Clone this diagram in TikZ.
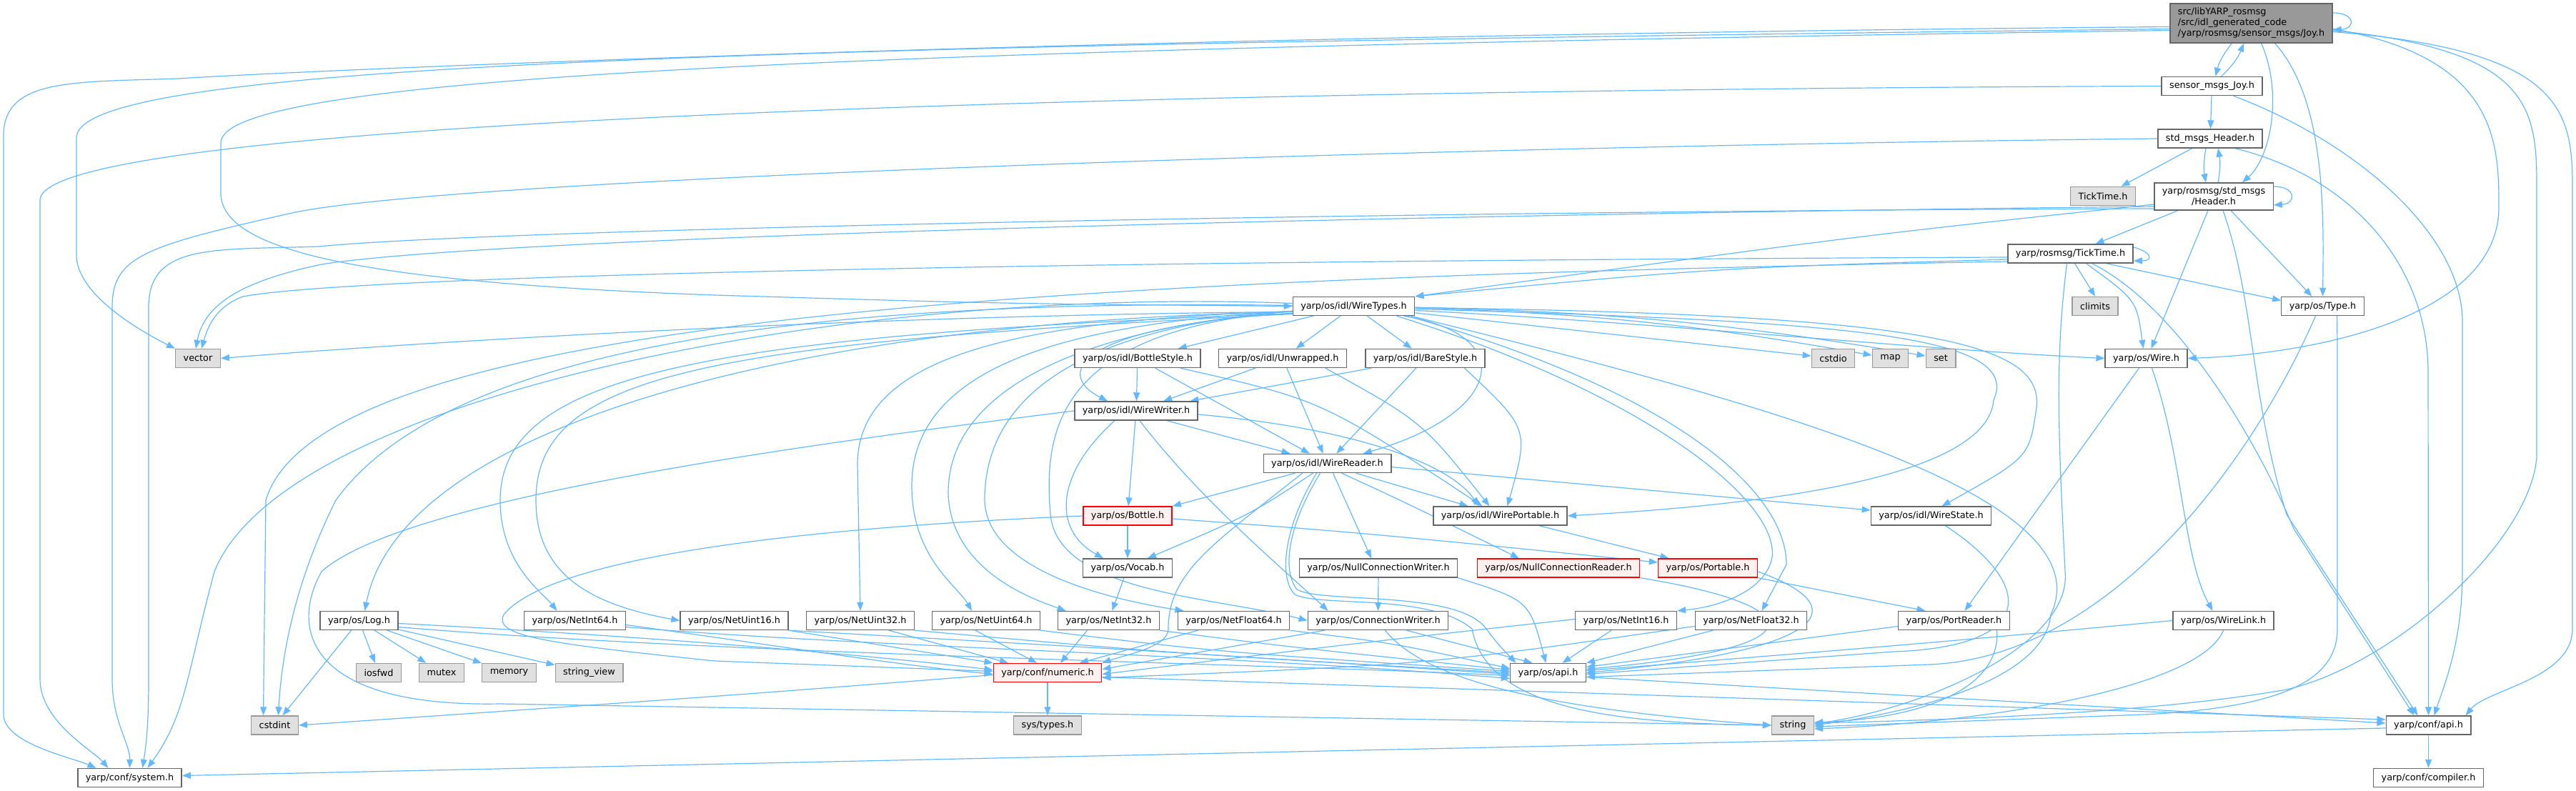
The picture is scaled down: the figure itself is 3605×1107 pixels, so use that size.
\documentclass[tikz,border=0pt]{standalone}
\usepackage{fontspec}
\setmainfont{DejaVu Sans}
\usepackage{xcolor}
\usepackage{tikz}
\usetikzlibrary{arrows.meta,backgrounds}

\definecolor{edgeblue}{HTML}{63B8FF}
\definecolor{boxline}{HTML}{666666}
\definecolor{extline}{HTML}{999999}
\definecolor{extfill}{HTML}{E0E0E0}
\definecolor{redfill}{HTML}{FFF0F0}
\definecolor{rootfill}{HTML}{999999}

\begin{document}
\begin{tikzpicture}[x=1pt, y=1pt,
  hdr/.style={draw, line width=1.4pt, minimum height=26pt, inner xsep=11pt,
              inner ysep=6pt, font=\fontsize{12.8pt}{15pt}\selectfont},
  plainfile/.style={hdr, fill=white, draw=boxline},
  extfile/.style={hdr, fill=extfill, draw=extline},
  redfile/.style={hdr, fill=redfill, draw=red},
  rootfile/.style={hdr, fill=rootfill, draw=boxline, align=left},
  dep/.style={draw=edgeblue, line width=1.2pt, -{Triangle[length=12pt,width=9pt]}},
]
\useasboundingbox (0,0) rectangle (3605,-1107);

% ---- rows 0..4
\node[rootfile] (J) at (3150.5,-32.5) {src/libYARP\_rosmsg\\/src/idl\_generated\_code\\/yarp/rosmsg/sensor\_msgs/Joy.h};
\node[plainfile] (SJ) at (3095.5,-120.5) {sensor\_msgs\_Joy.h};
\node[plainfile] (SH) at (3093,-194) {std\_msgs\_Header.h};
\node[extfile] (TG) at (2943,-274.5) {TickTime.h};
\node[plainfile, align=center] (H) at (3098,-275) {yarp/rosmsg/std\_msgs\\/Header.h};
\node[plainfile] (TT) at (2897.5,-355) {yarp/rosmsg/TickTime.h};
% ---- row 5
\node[extfile] (CL) at (2932,-428.5) {climits};
\node[plainfile] (T) at (3250.5,-428.5) {yarp/os/Type.h};
\node[plainfile] (WT) at (1894.5,-428.5) {yarp/os/idl/WireTypes.h};
% ---- row 6
\node[extfile] (V) at (277,-501.5) {vector};
\node[plainfile] (BS) at (1592,-501.5) {yarp/os/idl/BottleStyle.h};
\node[plainfile] (U) at (1795,-501.5) {yarp/os/idl/Unwrapped.h};
\node[plainfile] (BaS) at (1994.5,-501.5) {yarp/os/idl/BareStyle.h};
\node[extfile] (CSD) at (2565.5,-501.5) {cstdio};
\node[extfile] (MP) at (2645.5,-501.5) {map};
\node[extfile] (ST) at (2716,-501.5) {set};
\node[plainfile] (W) at (3003.5,-501.5) {yarp/os/Wire.h};
% ---- rows 7..10
\node[plainfile] (WW) at (1590,-575) {yarp/os/idl/WireWriter.h};
\node[plainfile] (WR) at (1857.5,-648.5) {yarp/os/idl/WireReader.h};
\node[redfile] (B) at (1578,-722) {yarp/os/Bottle.h};
\node[plainfile] (WP) at (2099.5,-722) {yarp/os/idl/WirePortable.h};
\node[plainfile] (WS) at (2702.5,-722) {yarp/os/idl/WireState.h};
\node[plainfile] (Vo) at (1578,-795) {yarp/os/Vocab.h};
\node[plainfile] (NCW) at (1929,-795) {yarp/os/NullConnectionWriter.h};
\node[redfile] (NCR) at (2181,-795) {yarp/os/NullConnectionReader.h};
\node[redfile] (P) at (2390,-795) {yarp/os/Portable.h};
% ---- row 11
\node[plainfile] (LG) at (502.5,-868.5) {yarp/os/Log.h};
\node[plainfile] (NI64) at (804.5,-868.5) {yarp/os/NetInt64.h};
\node[plainfile] (NU16) at (1027.5,-868.5) {yarp/os/NetUint16.h};
\node[plainfile] (NU32) at (1204,-868.5) {yarp/os/NetUint32.h};
\node[plainfile] (NU64) at (1380,-868.5) {yarp/os/NetUint64.h};
\node[plainfile] (NI32) at (1551.5,-868.5) {yarp/os/NetInt32.h};
\node[plainfile] (NF64) at (1726.5,-868.5) {yarp/os/NetFloat64.h};
\node[plainfile] (CW) at (1928.5,-868.5) {yarp/os/ConnectionWriter.h};
\node[plainfile] (NI16) at (2275.5,-868.5) {yarp/os/NetInt16.h};
\node[plainfile] (NF32) at (2450.5,-868.5) {yarp/os/NetFloat32.h};
\node[plainfile] (PR) at (2734.5,-868.5) {yarp/os/PortReader.h};
\node[plainfile] (WL) at (3111.5,-868.5) {yarp/os/WireLink.h};
% ---- rows 12..14
\node[extfile] (IO) at (530,-941.5) {iosfwd};
\node[extfile] (MX) at (618,-941.5) {mutex};
\node[extfile] (MEM) at (712.5,-941.5) {memory};
\node[extfile] (SV) at (824.5,-941.5) {string\_view};
\node[redfile] (N) at (1466,-941.5) {yarp/conf/numeric.h};
\node[plainfile] (OA) at (2166.5,-941.5) {yarp/os/api.h};
\node[extfile] (CI) at (384.5,-1015) {cstdint};
\node[extfile] (SYT) at (1466,-1015) {sys/types.h};
\node[extfile] (S) at (2509,-1015) {string};
\node[plainfile] (CA) at (3398.5,-1015) {yarp/conf/api.h};
\node[plainfile] (SYS) at (181.5,-1088.5) {yarp/conf/system.h};
\node[plainfile] (CO) at (3398.5,-1088.5) {yarp/conf/compiler.h};

\begin{scope}[on background layer]
  % root file
  \draw[dep] (J) to[bend right=12] (SJ);
  \draw[dep] (SJ) to[bend right=12] (J);
  \draw[dep] ([yshift=14.5]J.east) .. controls +(32,0) and +(32,2) .. ([yshift=-9.5]J.east);
  \draw[dep] ([xshift=14]J.south) .. controls (3195,-130) and (3178,-220) .. ([xshift=40]H.north);
  \draw[dep] ([xshift=33]J.south) .. controls (3255,-140) and (3252,-300) .. (T.north);
  \draw[dep] ([yshift=-8]J.east) .. controls (3495,-80) and (3497,-200) .. (3497,-290) .. controls (3497,-440) and (3250,-495) .. (W.east);
  \draw[dep] ([yshift=-12]J.east) .. controls (3580,-70) and (3600,-150) .. (3600,-260) -- (3600,-880) .. controls (3600,-950) and (3480,-965) .. ([xshift=52]CA.north);
  \draw[dep] ([yshift=-10]J.east) .. controls (3540,-70) and (3550,-150) .. (3550,-260) -- (3550,-640) .. controls (3540,-760) and (3350,-930) .. (3200,-965) .. controls (3000,-1000) and (2700,-1008) .. ([yshift=3]S.east);
  \draw[dep] ([yshift=-5]J.west) .. controls (1500,-50) and (400,-100) .. (250,-110) .. controls (100,-115) and (5,-110) .. (5,-190) -- (5,-1000) .. controls (5,-1040) and (100,-1060) .. ([xshift=-47]SYS.north);
  \draw[dep] ([yshift=-8]J.west) .. controls (1000,-65) and (107,-90) .. (107,-193) -- (107,-357) .. controls (107,-410) and (190,-460) .. (V.north west);
  \draw[dep] ([yshift=-10]J.west) .. controls (1100,-70) and (309,-110) .. (309,-200) -- (309,-270) .. controls (309,-350) and (500,-395) .. (1000,-413) .. controls (1400,-425) .. (WT.west);
  % sensor_msgs_Joy.h
  \draw[dep] (SJ.west) .. controls (1800,-125) and (56,-160) .. (56,-280) -- (56,-950) .. controls (56,-1010) and (130,-1050) .. ([xshift=-30]SYS.north);
  \draw[dep] (SJ) -- (SH);
  \draw[dep] ([xshift=30]SJ.south) .. controls (3300,-200) and (3446,-330) .. (3446,-450) -- (3446,-800) .. controls (3446,-900) and (3420,-960) .. ([xshift=8]CA.north);
  % std_msgs_Header.h
  \draw[dep] ([xshift=-6]SH.south) to[bend right=10] ([xshift=-11]H.north);
  \draw[dep] ([xshift=6]H.north) to[bend right=10] ([xshift=11]SH.south);
  \draw[dep] (SH) -- (TG);
  \draw[dep] (SH.west) .. controls (2000,-205) and (600,-250) .. (400,-300) .. controls (200,-345) and (157,-360) .. (157,-430) -- (157,-950) .. controls (157,-1010) and (182,-1040) .. (SYS.north);
  \draw[dep] ([xshift=35]SH.south) .. controls (3300,-250) and (3398,-380) .. (3398,-520) -- (CA.north);
  % Header.h
  \draw[dep] ([yshift=14]H.east) .. controls +(32,0) and +(32,2) .. ([yshift=-12]H.east);
  \draw[dep] ([xshift=-50]H.south) -- ([xshift=35]TT.north);
  \draw[dep] ([xshift=-8]H.south) -- ([xshift=7]W.north);
  \draw[dep] ([xshift=24]H.south) -- ([xshift=-15]T.north);
  \draw[dep] ([xshift=13]H.south) .. controls (3155,-420) and (3150,-560) .. (3200,-720) -- ([xshift=-15]CA.north);
  \draw[dep] ([yshift=-14]H.west) .. controls (2000,-300) and (700,-330) .. (450,-370) .. controls (330,-395) and (285,-430) .. ([xshift=-3]V.north);
  \draw[dep] ([yshift=-17]H.west) .. controls (2000,-295) and (700,-320) .. (446,-345) .. controls (300,-350) and (208,-340) .. (208,-430) -- (208,-950) .. controls (208,-1010) and (205,-1040) .. ([xshift=18]SYS.north);
  \draw[dep] ([yshift=-11]H.west) .. controls (2600,-330) .. (WT.north east);
  % TickTime.h
  \draw[dep] ([xshift=48]TT.north) .. controls +(60,0) and +(35,0) .. ([yshift=-10]TT.east);
  \draw[dep] ([xshift=6]TT.south) -- (CL.north);
  \draw[dep] ([xshift=50]TT.south) -- ([yshift=8]T.west);
  \draw[dep] ([xshift=22]TT.south) .. controls (2990,-420) .. ([xshift=-4]W.north);
  \draw[dep] ([xshift=-5]TT.south) .. controls (2876,-500) and (2880,-600) .. (2890,-800) .. controls (2900,-900) and (2700,-990) .. ([yshift=2]S.east);
  \draw[dep] ([xshift=30]TT.south) .. controls (3050,-430) and (3160,-620) .. (3210,-740) -- ([xshift=-20]CA.north);
  \draw[dep] ([yshift=-8]TT.west) .. controls (2400,-375) .. (WT.north east);
  \draw[dep] ([yshift=-5]TT.west) .. controls (1500,-365) and (500,-385) .. (340,-415) .. controls (300,-430) and (290,-460) .. ([xshift=5]V.north);
  \draw[dep] ([yshift=-11]TT.west) .. controls (1500,-390) and (450,-440) .. (372,-700) -- ([xshift=-16]CI.north);
  % Type.h, Wire.h and their children
  \draw[dep] ([xshift=-10]T.south) .. controls (3150,-650) and (2950,-920) .. (2700,-930) -- ([yshift=-6]OA.east);
  \draw[dep] ([xshift=20]T.south) .. controls (3271,-480) .. (3271,-560) -- (3271,-880) .. controls (3271,-950) and (3200,-990) .. (3000,-1000) -- ([yshift=-2]S.east);
  \draw[dep] ([xshift=-10]W.south) -- ([xshift=15]PR.north);
  \draw[dep] ([xshift=8]W.south) .. controls (3055,-640) and (3055,-780) .. ([xshift=-15]WL.north);
  \draw[dep] (WL.west) .. controls (2700,-900) .. ([yshift=3]OA.east);
  \draw[dep] (WL.south) .. controls (3080,-960) and (2800,-1010) .. ([yshift=-5]S.east);
  \draw[dep] ([yshift=-8]PR.west) -- ([yshift=8]OA.east);
  \draw[dep] ([xshift=60]PR.south) .. controls (2800,-960) and (2700,-1005) .. ([yshift=4]S.east);
  \draw[dep] ([xshift=20]WS.south) .. controls (2850,-820) and (2850,-905) .. (2650,-912) -- ([yshift=-2]OA.east);
  \draw[dep] (P.south east) -- ([xshift=-40]PR.north);
  \draw[dep] ([yshift=-5]P.east) .. controls (2600,-850) and (2560,-910) .. (OA.east);
  \draw[dep] (NCR.south east) .. controls (2520,-845) and (2570,-905) .. ([yshift=5]OA.east);
  \draw[dep] (NCW) -- (CW);
  \draw[dep] (NCW.south east) .. controls (2140,-840) .. ([xshift=-3]OA.north);
  \draw[dep] ([xshift=40]CW.south) -- ([xshift=-22]OA.north);
  \draw[dep] ([xshift=10]CW.south) .. controls (2000,-960) and (2200,-995) .. (S.west);
  \draw[dep] ([xshift=-75]CW.south) -- ([yshift=5]N.east);
  \draw[dep] (NI16) -- ([xshift=20]OA.north);
  \draw[dep] ([yshift=2]NI16.west) .. controls (1900,-900) .. ([yshift=-2]N.east);
  \draw[dep] (NF32) -- (OA.north east);
  \draw[dep] ([yshift=-8]NF32.west) .. controls (2000,-930) .. ([yshift=-7]N.east);
  % WireTypes.h
  \draw[dep] ([yshift=-8]WT.west) .. controls (1300,-440) and (700,-470) .. (V.east);
  \draw[dep] (WT) -- (BS);
  \draw[dep] (WT) -- (U);
  \draw[dep] (WT) -- (BaS);
  \draw[dep] ([yshift=-10]WT.west) .. controls (1520,-455) and (1470,-520) .. ([xshift=-40]WW.north);
  \draw[dep] ([xshift=70]WT.south) .. controls (2130,-470) and (2100,-580) .. ([xshift=50]WR.north);
  \draw[dep] ([yshift=-4]WT.east) .. controls (2600,-450) and (2830,-470) .. (2790,-560) .. controls (2780,-680) and (2400,-710) .. (WP.east);
  \draw[dep] ([yshift=-2]WT.east) .. controls (2700,-440) and (2860,-480) .. (2850,-570) .. controls (2840,-640) .. ([xshift=15]WS.north);
  \draw[dep] (WT) -- (CSD);
  \draw[dep] (WT) to[bend left=4] (MP);
  \draw[dep] (WT) to[bend left=4] (ST);
  \draw[dep] ([yshift=-6]WT.east) .. controls (2300,-450) and (2700,-490) .. (W.west);
  \draw[dep] ([xshift=80]WT.south) .. controls (2450,-560) and (2950,-690) .. (2870,-860) .. controls (2860,-960) and (2650,-1000) .. (S.east);
  \draw[dep] ([yshift=1]WT.west) .. controls (1000,-415) and (600,-520) .. (470,-700) .. controls (420,-800) and (395,-900) .. ([xshift=5]CI.north);
  \draw[dep] ([yshift=4]WT.west) .. controls (1200,-400) and (400,-550) .. (300,-800) .. controls (260,-950) and (260,-1000) .. ([xshift=25]SYS.north);
  \draw[dep] ([yshift=-8]WT.west) .. controls (1100,-450) and (560,-600) .. ([xshift=8]LG.north);
  \draw[dep] ([yshift=-10]WT.west) .. controls (1000,-470) and (700,-520) .. (700,-700) .. controls (700,-790) and (760,-830) .. ([xshift=-25]NI64.north);
  \draw[dep] ([yshift=-11]WT.west) .. controls (1000,-480) and (750,-520) .. (750,-700) .. controls (750,-800) and (820,-845) .. (NU16.west);
  \draw[dep] ([yshift=-7]WT.west) .. controls (1450,-448) and (1200,-490) .. (1200,-650) -- (NU32.north);
  \draw[dep] ([yshift=-7]WT.west) .. controls (1500,-452) and (1276,-510) .. (1276,-680) .. controls (1276,-780) and (1340,-820) .. ([xshift=-20]NU64.north);
  \draw[dep] ([yshift=-7]WT.west) .. controls (1550,-456) and (1327,-530) .. (1327,-690) .. controls (1330,-800) and (1450,-840) .. ([xshift=-60]NI32.north);
  \draw[dep] ([yshift=-7]WT.west) .. controls (1520,-458) and (1378,-550) .. (1378,-700) .. controls (1380,-800) and (1560,-840) .. ([xshift=-70]NF64.north);
  \draw[dep] ([yshift=-7]WT.west) .. controls (1480,-462) and (1460,-600) .. (1470,-720) .. controls (1480,-830) and (1700,-835) .. (CW.west);
  \draw[dep] ([xshift=60]WT.south) .. controls (2300,-550) and (2490,-700) .. (2480,-780) .. controls (2470,-830) and (2400,-850) .. (NI16.north east);
  \draw[dep] ([xshift=75]WT.south) .. controls (2350,-550) and (2500,-690) .. (2500,-790) -- ([xshift=15]NF32.north);
  % styles
  \draw[dep] (BS) -- (WW);
  \draw[dep] (BS) -- (WR);
  \draw[dep] ([xshift=60]BS.south) .. controls (1850,-560) .. ([xshift=-25]WP.north);
  \draw[dep] (U) -- (WW);
  \draw[dep] (U) -- (WR);
  \draw[dep] ([xshift=60]U.south) .. controls (1990,-590) .. ([xshift=-15]WP.north);
  \draw[dep] (BaS) -- (WW);
  \draw[dep] (BaS) -- (WR);
  \draw[dep] ([xshift=55]BaS.south) .. controls (2140,-600) .. ([xshift=10]WP.north);
  % WireWriter.h
  \draw[dep] ([xshift=43]WW.south) -- ([xshift=-52]WR.north);
  \draw[dep] ([yshift=-5]WW.east) .. controls (1900,-600) and (2030,-650) .. ([xshift=-30]WP.north);
  \draw[dep] (WW) -- (B);
  \draw[dep] ([xshift=-30]WW.south) .. controls (1480,-660) and (1470,-740) .. ([xshift=-34]Vo.north);
  \draw[dep] ([xshift=5]WW.south) .. controls (1680,-700) and (1800,-800) .. ([xshift=-70]CW.north);
  \draw[dep] (WW.west) .. controls (1100,-625) and (560,-700) .. (450,-800) .. controls (405,-880) and (430,-990) .. (700,-985) -- (S.west);
  % WireReader.h
  \draw[dep] ([xshift=-45]WR.south) -- (B.north east);
  \draw[dep] ([xshift=-20]WR.south) .. controls (1750,-720) .. ([xshift=28]Vo.north);
  \draw[dep] ([xshift=8]WR.south) -- ([xshift=-10]NCW.north);
  \draw[dep] ([xshift=20]WR.south) .. controls (1960,-700) .. ([xshift=-55]NCR.north);
  \draw[dep] ([xshift=40]WR.south) -- ([xshift=-45]WP.north);
  \draw[dep] ([yshift=-5]WR.east) -- ([yshift=8]WS.west);
  \draw[dep] ([xshift=-35]WR.south) .. controls (1700,-760) and (1635,-800) .. (1635,-880) .. controls (1635,-905) and (1580,-915) .. (N.north east);
  \draw[dep] ([xshift=-10]WR.south) .. controls (1800,-740) and (1795,-800) .. (1815,-825) .. controls (1850,-845) and (2040,-825) .. (2080,-880) .. controls (2095,-900) .. ([xshift=-45]OA.north);
  \draw[dep] ([xshift=-15]WR.south) .. controls (1795,-740) and (1790,-810) .. (1812,-832) .. controls (1850,-850) and (2000,-830) .. (2060,-880) .. controls (2080,-990) and (2250,-1012) .. (S.west);
  % Bottle.h, Vocab.h, WirePortable.h
  \draw[dep] (B) -- (Vo);
  \draw[dep] ([yshift=-4]B.east) .. controls (1900,-745) .. ([yshift=8]P.west);
  \draw[dep] (B.west) .. controls (1200,-735) and (780,-770) .. (705,-860) .. controls (690,-890) and (760,-900) .. (1000,-925) -- ([yshift=2]N.west);
  \draw[dep] (Vo) -- (NI32);
  \draw[dep] (WP) -- (P);
  % Log.h
  \draw[dep] (LG) -- (CI);
  \draw[dep] (LG) -- (IO);
  \draw[dep] (LG) -- (MX);
  \draw[dep] (LG) -- (MEM);
  \draw[dep] (LG) -- (SV);
  \draw[dep] ([yshift=-4]LG.east) .. controls (900,-890) and (1200,-915) .. ([yshift=4]N.west);
  \draw[dep] ([yshift=-9]LG.east) .. controls (1000,-915) and (1800,-930) .. ([yshift=-4]OA.west);
  % net types
  \draw[dep] ([yshift=-6]NI64.east) .. controls (1100,-905) and (1250,-930) .. ([yshift=-2]N.west);
  \draw[dep] ([yshift=-9]NI64.east) .. controls (1200,-905) and (1700,-915) .. ([yshift=-8]OA.west);
  \draw[dep] (NU16.south east) -- (N.north west);
  \draw[dep] (NU16.south east) .. controls (1600,-910) .. ([yshift=-2]OA.west);
  \draw[dep] ([xshift=40]NU32.south) -- ([xshift=-55]N.north);
  \draw[dep] (NU32.south east) .. controls (1650,-915) .. (OA.west);
  \draw[dep] ([xshift=-15]NU64.south) -- ([xshift=-15]N.north);
  \draw[dep] (NU64.south east) .. controls (1700,-912) .. ([yshift=2]OA.west);
  \draw[dep] ([xshift=-30]NI32.south) -- ([xshift=18]N.north);
  \draw[dep] (NI32.south east) .. controls (1800,-905) .. ([yshift=4]OA.west);
  \draw[dep] ([xshift=-50]NF64.south) -- ([xshift=45]N.north);
  \draw[dep] (NF64.south east) .. controls (1950,-900) .. ([yshift=6]OA.west);
  % numeric.h and the api headers
  \draw[dep] (N) -- (SYT);
  \draw[dep] ([yshift=-3]N.west) .. controls (1000,-975) .. (CI.east);
  \draw[dep] ([yshift=-6]N.east) -- ([yshift=8]CA.west);
  \draw[dep] ([yshift=-6]OA.east) -- ([yshift=3]CA.west);
  \draw[dep] (CA) -- (CO);
  \draw[dep] ([yshift=-4]CA.west) -- ([yshift=3]SYS.east);
\end{scope}
\end{tikzpicture}
\end{document}
